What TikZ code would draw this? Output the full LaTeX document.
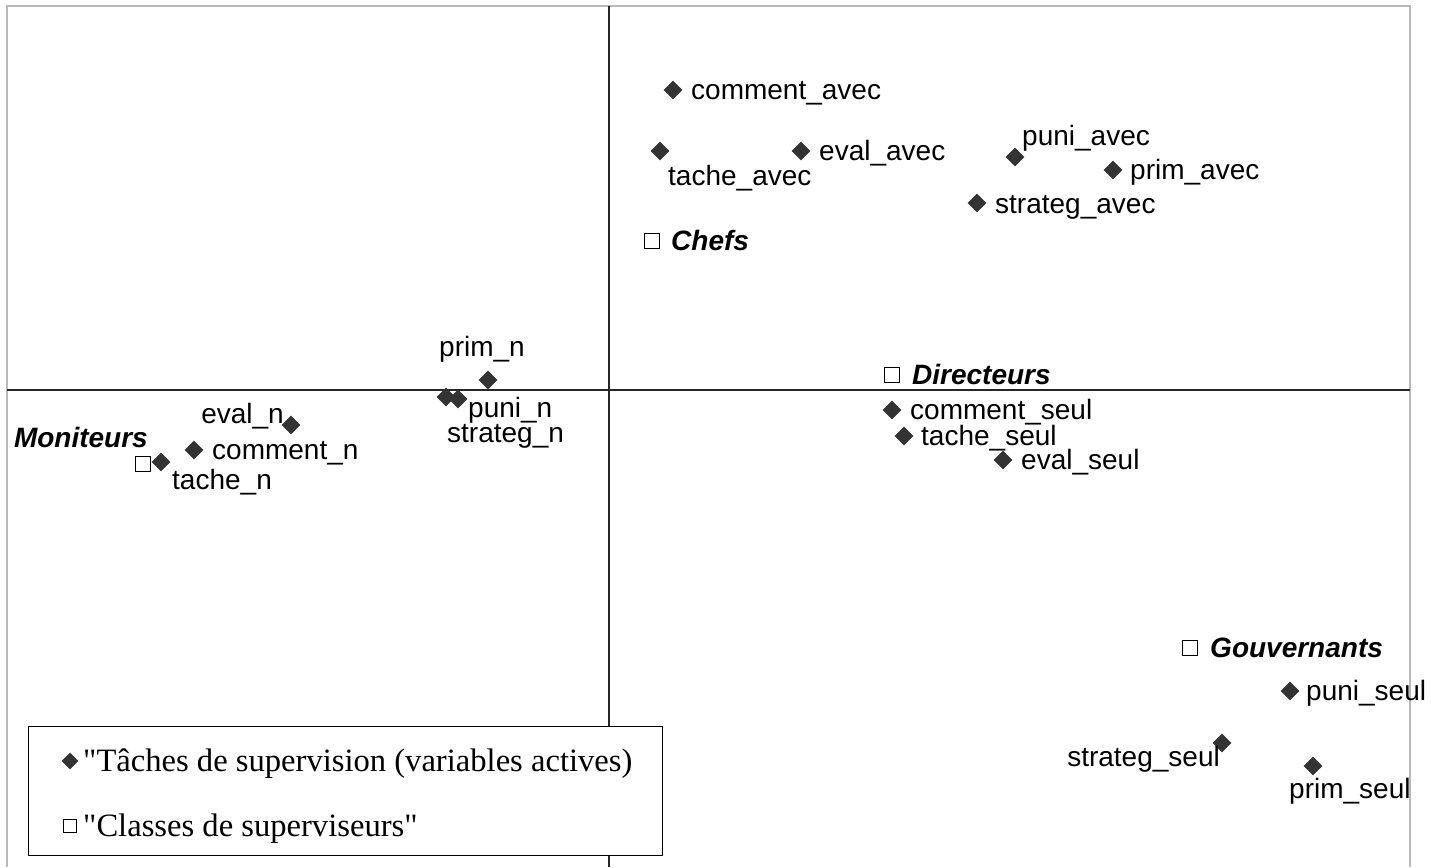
\documentclass[tikz,border=0pt]{standalone}
\usepackage{fontspec}
\setmainfont{Liberation Serif}[Ligatures=TeXOff]
\setsansfont{Liberation Sans}
\usetikzlibrary{shapes.geometric,positioning}

\begin{document}
\begin{tikzpicture}[x=1pt,y=-1pt,
	pt/.style={diamond,fill=black!80,minimum size=19pt,inner sep=0pt},
	cls/.style={draw,fill=white,minimum size=15pt,inner sep=0pt,line width=1.1pt},
	lbl/.style={font=\sffamily\fontsize{28}{30}\selectfont,inner sep=0pt,text height=25pt,text depth=6pt},
	clbl/.style={lbl,font=\sffamily\bfseries\itshape\fontsize{28}{30}\selectfont},
	leglbl/.style={font=\rmfamily\fontsize{32.6}{34}\selectfont,inner sep=0pt,text height=26pt,text depth=6pt}]
	\useasboundingbox (0,0) rectangle (1431,867);
	\draw[gray!55,line width=2pt] (7,867) |- (1410,6) -- (1410,867);
	\draw[line width=1.4pt,black!85] (609,6) -- (609,867);
	\draw[line width=1.4pt,black!85] (7,390) -- (1410,390);
	\foreach \nm/\mx/\my/\an/\lx/\ly/\txt in {
		ca/673/90/west/691/90/comment\_avec,
		ta/660/151/west/668/176/tache\_avec,
		ea/801/151/west/819/151/eval\_avec,
		pua/1015/157/west/1022/136/puni\_avec,
		pra/1113/170/west/1130/170/prim\_avec,
		sa/977/203/west/995/204/strateg\_avec,
		prn/488/380/west/439/347/prim\_n,
		sn/446/397/west/447/433/strateg\_n,
		pun/458/399/west/468/408/puni\_n,
		en/291/425/east/284/414/eval\_n,
		cn/194/450/west/212/450/comment\_n,
		tn/161/462/west/172/480/tache\_n,
		cs/892/410/west/910/410/comment\_seul,
		ts/904/436/west/921/436/tache\_seul,
		es/1003/460/west/1021/460/eval\_seul,
		pus/1290/691/west/1306/691/puni\_seul,
		ss/1222/743/east/1220/757/strateg\_seul,
		prs/1313/766/west/1289/789/prim\_seul}
		{
		\node[pt] (\nm) at (\mx,\my) {};
		\node[lbl,anchor=\an] (\nm-l) at (\lx,\ly) {\txt};
		}
	\foreach \nm/\mx/\my/\an/\lx/\ly/\txt in {
		chefs/652/241/west/671/241/Chefs,
		dir/892/375/west/912/375/Directeurs,
		mon/143/464/east/148/438/Moniteurs,
		gouv/1190/648/west/1210/648/Gouvernants}
		{
		\node[cls] (\nm) at (\mx,\my) {};
		\node[clbl,anchor=\an] (\nm-l) at (\lx,\ly) {\txt};
		}
	\node[draw,fill=white,line width=1.2pt,minimum width=634pt,minimum height=129pt,anchor=north west,inner sep=0pt] (leg) at (28,726) {};
	\node[pt,minimum size=17pt] (legpt) at (70,761) {};
	\node[cls,minimum size=13pt] (legcls) at (70,826) {};
	\node[leglbl,anchor=west] (legpt-l) at (83,761) {"Tâches de supervision (variables actives)};
	\node[leglbl,anchor=west] (legcls-l) at (83,826) {"Classes de superviseurs"};
\end{tikzpicture}
\end{document}
